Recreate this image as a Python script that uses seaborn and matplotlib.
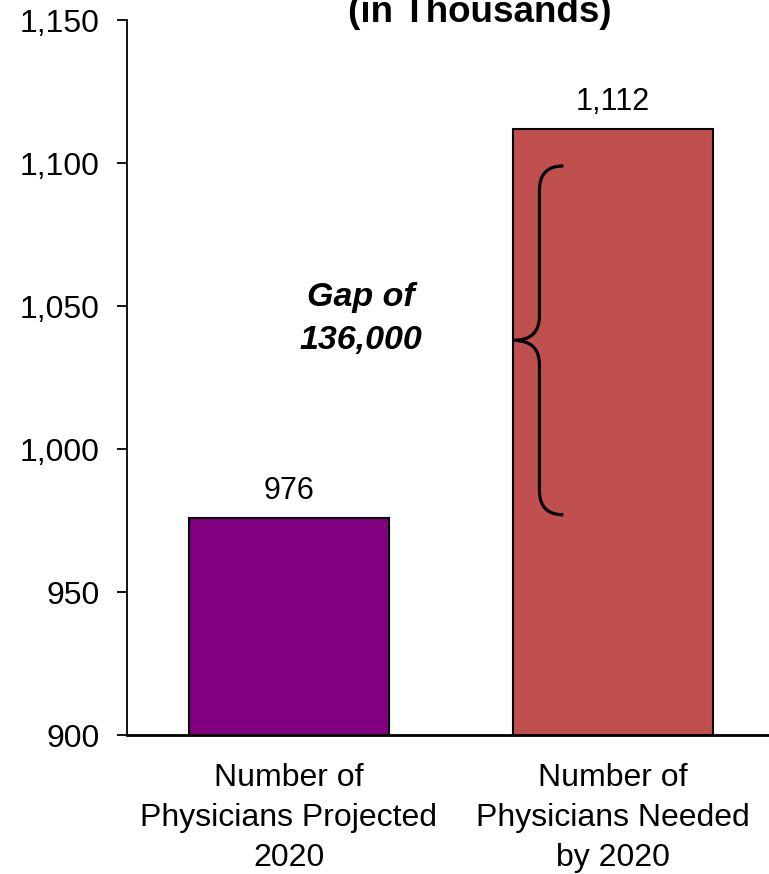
import matplotlib
matplotlib.use("Agg")
import matplotlib.pyplot as plt
from matplotlib.path import Path
from matplotlib.patches import PathPatch
import seaborn as sns
import pandas as pd

# Chart data (physicians, in thousands)
categories = ["Number of\nPhysicians Projected\n2020", "Number of\nPhysicians Needed\nby 2020"]
values = [976, 1112]
value_labels = ["976", "1,112"]
bar_colors = ["#800080", "#C0504D"]
y_ticks = [900, 950, 1000, 1050, 1100, 1150]
y_tick_labels = ["900", "950", "1,000", "1,050", "1,100", "1,150"]
gap_label = "Gap of\n136,000"
brace_span = [977, 1099]
title_text = "(in Thousands)"

sns.set_style("ticks")
plt.rcParams["font.family"] = ["Liberation Sans", "DejaVu Sans"]

fig = plt.figure(figsize=(7.69, 8.74), dpi=100)
ax = fig.add_axes([0.1651, 0.1590, 0.8427, 0.8181])

df = pd.DataFrame({"category": categories, "value": values})
sns.barplot(data=df, x="category", y="value", hue="category", palette=bar_colors,
            legend=False, width=0.62, edgecolor="black", linewidth=1.5, ax=ax,
            saturation=1)

ax.set_xlim(-0.5, 1.5)
ax.set_ylim(900, 1150)
ax.set_yticks(y_ticks)
ax.set_yticklabels(y_tick_labels)
ax.set_xlabel("")
ax.set_ylabel("")

for side in ("top", "right"):
    ax.spines[side].set_visible(False)
ax.spines["left"].set_linewidth(1.3)
ax.spines["bottom"].set_linewidth(2.0)
ax.spines["left"].set_color("black")
ax.spines["bottom"].set_color("black")

ax.tick_params(axis="y", direction="out", length=7.5, width=1.3, pad=12,
               labelsize=23, colors="black")
ax.tick_params(axis="x", length=0, pad=20, labelsize=23, colors="black")
for lbl in ax.get_xticklabels():
    lbl.set_linespacing(1.44)

# Value labels above each bar
for i, (v, txt) in enumerate(zip(values, value_labels)):
    ax.annotate(txt, xy=(i, v), xytext=(0, 13.5), textcoords="offset points",
                ha="center", va="baseline", fontsize=22, color="black")

# Curly brace marking the shortfall
lo, hi = brace_span
mid = (lo + hi) / 2
x_tip, x_v, x_end = 0.693, 0.773, 0.847
r = 8.5
verts = [
    (x_end, hi), (x_v, hi), (x_v, hi - r),
    (x_v, mid + r),
    (x_v, mid), (x_tip, mid),
    (x_v, mid), (x_v, mid - r),
    (x_v, lo + r),
    (x_v, lo), (x_end, lo),
]
codes = [Path.MOVETO, Path.CURVE3, Path.CURVE3,
         Path.LINETO,
         Path.CURVE3, Path.CURVE3,
         Path.CURVE3, Path.CURVE3,
         Path.LINETO,
         Path.CURVE3, Path.CURVE3]
ax.add_patch(PathPatch(Path(verts, codes), facecolor="none", edgecolor="black",
                       linewidth=2.3, capstyle="butt", zorder=5))

ax.text(0.222, 1045.5, gap_label, ha="center", va="center", fontsize=24.5,
        fontweight="bold", fontstyle="italic", linespacing=1.5, color="black")

fig.text(0.624, 1 - 22 / 874, title_text, ha="center", va="baseline",
         fontsize=26.5, fontweight="bold", color="black")

fig.savefig("out.png", dpi=100)
